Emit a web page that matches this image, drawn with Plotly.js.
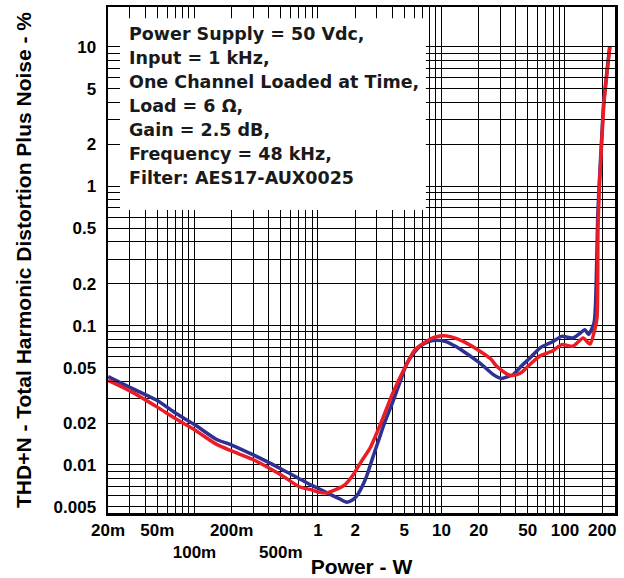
<!DOCTYPE html>
<html>
<head>
<meta charset="utf-8">
<script src="https://cdn.plot.ly/plotly-3.0.1.min.js"></script>
<style>html,body{margin:0;padding:0;background:#fff;}#chart{width:624px;height:578px;}</style>
</head>
<body>
<div id="chart"></div>
<script>
// ---- data ----
const blueX = [0.02,0.03,0.05,0.07,0.1,0.15,0.2,0.3,0.5,0.7,0.9,1.0,1.33,1.5,1.71,1.9,2.06,2.26,2.48,2.72,3.08,3.5,4.05,4.6,5.2,6.0,6.7,8.0,9.1,11,13,15,20.5,26.3,30.6,33,38,45,52,62.6,80,94,116,130,145,155,172,180,184,189,197,206,230];
const blueY = [0.043,0.036,0.029,0.0236,0.0195,0.0153,0.0139,0.0118,0.0094,0.0080,0.0071,0.0068,0.0060,0.0057,0.0054,0.0056,0.0060,0.0069,0.0083,0.0107,0.0148,0.0206,0.0286,0.039,0.0527,0.064,0.071,0.077,0.0784,0.0765,0.071,0.0655,0.0538,0.0445,0.0418,0.0425,0.0445,0.052,0.0585,0.069,0.077,0.0837,0.0815,0.087,0.0935,0.0863,0.105,0.25,0.6,1.0,2.0,4.0,10];

const redX = [0.02,0.03,0.05,0.07,0.1,0.15,0.2,0.3,0.5,0.7,0.9,1.0,1.18,1.42,1.65,1.93,2.26,2.64,3.2,4.0,5.0,6.0,7.0,8.5,10,12,15,20.5,25,28,32,36,40.6,45,52,62.6,80,94,116,140,155,160,175,182,185,190,198,207,231];
const redY = [0.0405,0.034,0.026,0.0215,0.0179,0.0141,0.0126,0.0109,0.0085,0.0070,0.0066,0.0064,0.0063,0.0067,0.0072,0.0085,0.0107,0.0132,0.0195,0.0322,0.049,0.066,0.0738,0.0816,0.0845,0.083,0.077,0.0655,0.0578,0.051,0.0465,0.044,0.0445,0.0465,0.0526,0.0605,0.066,0.0731,0.0711,0.0815,0.075,0.0738,0.095,0.115,0.5,1.0,2.0,4.0,10];

const xLabelVals = [0.02,0.05,0.1,0.2,0.5,1,2,5,10,20,50,100,200];
const xLabelText = ['20m','50m',' <br>100m','200m',' <br>500m','1','2','5','10','20','50','100','200'];
const yLabelVals = [0.005,0.01,0.02,0.05,0.1,0.2,0.5,1,2,5,10];
const yLabelText = ['0.005','0.01','0.02','0.05','0.1','0.2','0.5','1','2','5','10'];

const boxLines = ['Power Supply = 50 Vdc,', 'Input = 1 kHz,', 'One Channel Loaded at Time,', 'Load = 6 Ω,', 'Gain = 2.5 dB,', 'Frequency = 48 kHz,', 'Filter: AES17-AUX0025'];

// ---- grid ticks: every 1..9 × decade, labels where given ----
function gridTicks(lo, hi, labelVals, labelText) {
  const vals = [], text = [];
  for (let e = -3; e <= 3; e++) {
    for (let d = 1; d <= 9; d++) {
      const v = +(d * Math.pow(10, e)).toPrecision(6);
      if (v < lo || v > hi) continue;
      vals.push(v);
      const i = labelVals.findIndex(l => Math.abs(l - v) / v < 1e-6);
      text.push(i >= 0 ? labelText[i] : '');
    }
  }
  return {vals, text};
}
const xRange = [-1.700, 2.405];
const yRange = [-2.345, 1.287];
const xt = gridTicks(Math.pow(10, xRange[0]) * 0.999, Math.pow(10, xRange[1]), xLabelVals, xLabelText);
const yt = gridTicks(Math.pow(10, yRange[0]), Math.pow(10, yRange[1]), yLabelVals, yLabelText);

const FONT = 'Liberation Sans, Arial, Helvetica, sans-serif';

const traces = [
  {x: blueX, y: blueY, type: 'scatter', mode: 'lines', line: {color: '#2e3192', width: 3.5, shape: 'spline', smoothing: 0.6}, hoverinfo: 'skip', showlegend: false},
  {x: redX, y: redY, type: 'scatter', mode: 'lines', line: {color: '#ed1c24', width: 3.5, shape: 'spline', smoothing: 0.6}, hoverinfo: 'skip', showlegend: false}
];

const axisCommon = {
  type: 'log',
  tickmode: 'array',
  showgrid: true, gridcolor: '#000', gridwidth: 1,
  showline: true, linecolor: '#000', linewidth: 2.5, mirror: 'allticks',
  ticks: 'inside', ticklen: 11, tickwidth: 1, tickcolor: '#000',
  zeroline: false, tickangle: 0,
  tickfont: {family: FONT, size: 17, color: '#000', weight: 700}
};

// text box lines, 24 px apart
const plotH = 578 - 7 - 65;
const boxAnnotations = boxLines.map((t, i) => ({
  xref: 'paper', yref: 'paper', x: 0.0375, y: 1 - (27 + 24 * i) / plotH,
  xanchor: 'left', yanchor: 'middle', align: 'left', showarrow: false,
  text: t, font: {family: 'DejaVu Sans, sans-serif', size: 17.5, color: '#1a1a1a', weight: 700}
}));

const layout = {
  width: 624, height: 578,
  margin: {l: 108, r: 9, t: 7, b: 65},
  paper_bgcolor: '#fff', plot_bgcolor: '#fff',
  showlegend: false,
  xaxis: Object.assign({}, axisCommon, {
    range: xRange, tickvals: xt.vals, ticktext: xt.text, ticklabelstandoff: 0,
    title: {text: 'Power - W', font: {family: FONT, size: 21, color: '#000', weight: 700}, standoff: 6}
  }),
  yaxis: Object.assign({}, axisCommon, {
    range: yRange, tickvals: yt.vals, ticktext: yt.text, ticklabelstandoff: 6,
    title: {text: 'THD+N - Total Harmonic Distortion Plus Noise - %', font: {family: FONT, size: 21, color: '#000', weight: 700}, standoff: 16}
  }),
  shapes: [
    {type: 'rect', xref: 'paper', yref: 'paper', x0: 0.0237, x1: 0.627, y0: 0.599, y1: 0.978, fillcolor: '#fff', line: {width: 0}, layer: 'above'}
  ],
  annotations: boxAnnotations
};

Plotly.newPlot('chart', traces, layout, {staticPlot: true, displayModeBar: false});
</script>
</body>
</html>
